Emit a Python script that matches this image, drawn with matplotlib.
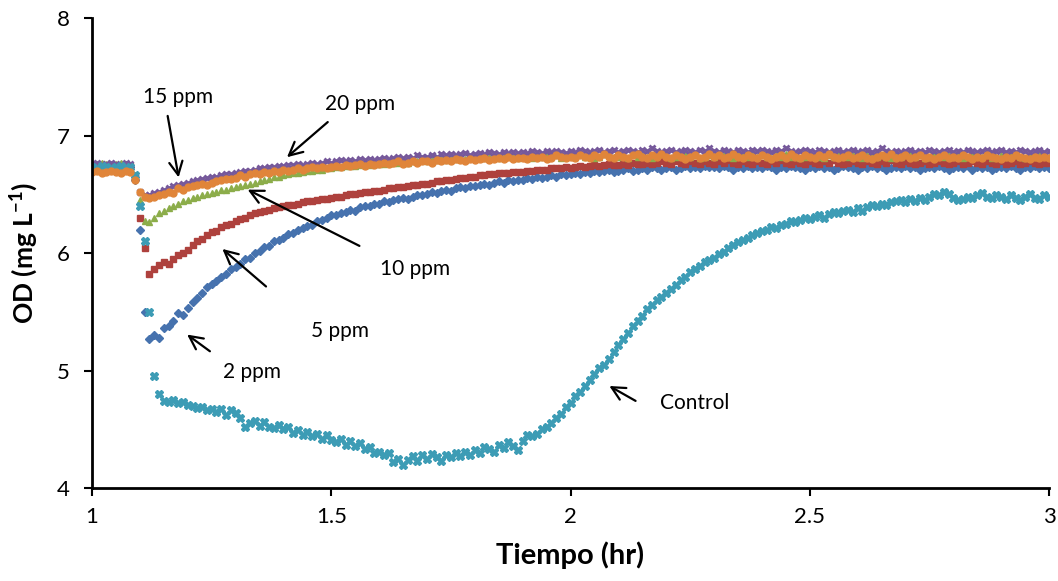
import matplotlib
matplotlib.use("Agg")
import matplotlib.pyplot as plt
import numpy as np

plt.rcParams['font.family'] = ['Lato', 'DejaVu Sans']
plt.rcParams['mathtext.fontset'] = 'custom'
plt.rcParams['mathtext.rm'] = 'Lato'
plt.rcParams['mathtext.bf'] = 'Lato:bold'

# time axis (hr), one reading every 0.01 hr
tiempo = np.round(np.arange(1.00, 3.001, 0.01), 2)

ppm2 = [
    6.74, 6.73, 6.75, 6.74, 6.73, 6.74, 6.75, 6.74, 6.73, 6.62,
    6.20, 5.50, 5.27, 5.30, 5.28, 5.36, 5.38, 5.42, 5.49, 5.47,
    5.53, 5.58, 5.62, 5.66, 5.71, 5.74, 5.76, 5.80, 5.82, 5.86,
    5.88, 5.91, 5.95, 5.96, 6.00, 6.02, 6.05, 6.06, 6.10, 6.11,
    6.13, 6.16, 6.17, 6.20, 6.21, 6.23, 6.24, 6.27, 6.28, 6.30,
    6.32, 6.32, 6.34, 6.35, 6.37, 6.36, 6.39, 6.40, 6.40, 6.42,
    6.42, 6.44, 6.43, 6.45, 6.46, 6.47, 6.46, 6.48, 6.49, 6.49,
    6.50, 6.52, 6.51, 6.53, 6.54, 6.53, 6.55, 6.56, 6.55, 6.57,
    6.57, 6.58, 6.59, 6.58, 6.60, 6.61, 6.60, 6.62, 6.61, 6.62,
    6.62, 6.64, 6.63, 6.65, 6.64, 6.65, 6.66, 6.65, 6.67, 6.66,
    6.67, 6.68, 6.67, 6.69, 6.68, 6.70, 6.69, 6.70, 6.71, 6.69,
    6.70, 6.71, 6.72, 6.70, 6.71, 6.72, 6.71, 6.73, 6.72, 6.71,
    6.72, 6.73, 6.71, 6.72, 6.74, 6.72, 6.73, 6.72, 6.74, 6.73,
    6.73, 6.72, 6.74, 6.73, 6.71, 6.73, 6.72, 6.74, 6.72, 6.73,
    6.72, 6.74, 6.73, 6.71, 6.73, 6.72, 6.74, 6.73, 6.72, 6.71,
    6.73, 6.72, 6.74, 6.72, 6.73, 6.71, 6.72, 6.74, 6.73, 6.72,
    6.71, 6.73, 6.72, 6.74, 6.72, 6.73, 6.71, 6.72, 6.73, 6.72,
    6.74, 6.72, 6.73, 6.71, 6.72, 6.73, 6.72, 6.74, 6.72, 6.71,
    6.72, 6.73, 6.72, 6.74, 6.71, 6.73, 6.72, 6.73, 6.71, 6.72,
    6.73, 6.72, 6.74, 6.72, 6.71, 6.73, 6.72, 6.74, 6.72, 6.73,
    6.72]

ppm5 = [
    6.74, 6.75, 6.73, 6.74, 6.75, 6.74, 6.73, 6.75, 6.74, 6.65,
    6.30, 6.04, 5.82, 5.86, 5.90, 5.92, 5.91, 5.95, 5.98, 6.00,
    6.03, 6.07, 6.10, 6.12, 6.15, 6.18, 6.19, 6.22, 6.24, 6.25,
    6.27, 6.29, 6.30, 6.32, 6.34, 6.35, 6.36, 6.37, 6.38, 6.39,
    6.40, 6.41, 6.41, 6.42, 6.43, 6.44, 6.44, 6.45, 6.46, 6.46,
    6.47, 6.48, 6.48, 6.49, 6.50, 6.50, 6.51, 6.52, 6.52, 6.53,
    6.53, 6.54, 6.55, 6.55, 6.56, 6.56, 6.57, 6.58, 6.58, 6.59,
    6.59, 6.60, 6.61, 6.61, 6.62, 6.62, 6.63, 6.64, 6.64, 6.65,
    6.65, 6.66, 6.66, 6.67, 6.67, 6.68, 6.68, 6.68, 6.69, 6.69,
    6.69, 6.70, 6.70, 6.71, 6.71, 6.71, 6.72, 6.72, 6.72, 6.73,
    6.72, 6.73, 6.74, 6.73, 6.74, 6.75, 6.74, 6.75, 6.76, 6.75,
    6.75, 6.76, 6.75, 6.77, 6.76, 6.76, 6.77, 6.76, 6.77, 6.78,
    6.77, 6.76, 6.78, 6.77, 6.76, 6.78, 6.77, 6.76, 6.78, 6.77,
    6.76, 6.78, 6.77, 6.79, 6.77, 6.76, 6.78, 6.77, 6.76, 6.78,
    6.77, 6.76, 6.78, 6.77, 6.79, 6.77, 6.76, 6.78, 6.77, 6.76,
    6.78, 6.77, 6.76, 6.78, 6.77, 6.79, 6.77, 6.76, 6.77, 6.78,
    6.77, 6.76, 6.78, 6.77, 6.76, 6.78, 6.77, 6.79, 6.77, 6.76,
    6.78, 6.77, 6.76, 6.77, 6.78, 6.76, 6.77, 6.78, 6.77, 6.76,
    6.77, 6.78, 6.76, 6.77, 6.78, 6.77, 6.76, 6.78, 6.77, 6.76,
    6.78, 6.76, 6.77, 6.78, 6.76, 6.77, 6.78, 6.77, 6.76, 6.77,
    6.77]

ppm10 = [
    6.76, 6.75, 6.77, 6.76, 6.75, 6.76, 6.77, 6.76, 6.75, 6.66,
    6.45, 6.27, 6.26, 6.30, 6.34, 6.36, 6.38, 6.40, 6.42, 6.44,
    6.45, 6.47, 6.48, 6.49, 6.50, 6.51, 6.52, 6.54, 6.54, 6.55,
    6.56, 6.57, 6.58, 6.59, 6.60, 6.61, 6.62, 6.63, 6.65, 6.65,
    6.66, 6.67, 6.68, 6.68, 6.69, 6.70, 6.70, 6.71, 6.71, 6.72,
    6.72, 6.73, 6.73, 6.74, 6.74, 6.74, 6.75, 6.75, 6.75, 6.76,
    6.76, 6.76, 6.77, 6.77, 6.77, 6.78, 6.77, 6.78, 6.78, 6.79,
    6.78, 6.79, 6.79, 6.80, 6.79, 6.80, 6.80, 6.81, 6.80, 6.81,
    6.81, 6.82, 6.81, 6.82, 6.83, 6.81, 6.82, 6.83, 6.82, 6.81,
    6.83, 6.82, 6.81, 6.83, 6.82, 6.84, 6.82, 6.83, 6.81, 6.82,
    6.83, 6.82, 6.84, 6.82, 6.83, 6.81, 6.82, 6.84, 6.83, 6.82,
    6.82, 6.83, 6.81, 6.84, 6.82, 6.83, 6.82, 6.81, 6.83, 6.84,
    6.83, 6.81, 6.82, 6.83, 6.84, 6.82, 6.83, 6.81, 6.82, 6.83,
    6.82, 6.84, 6.83, 6.82, 6.81, 6.83, 6.84, 6.82, 6.83, 6.82,
    6.83, 6.82, 6.81, 6.83, 6.82, 6.84, 6.82, 6.83, 6.81, 6.82,
    6.84, 6.83, 6.82, 6.81, 6.83, 6.82, 6.84, 6.83, 6.82, 6.83,
    6.82, 6.81, 6.83, 6.84, 6.82, 6.83, 6.82, 6.81, 6.83, 6.82,
    6.83, 6.84, 6.82, 6.83, 6.81, 6.82, 6.83, 6.84, 6.82, 6.83,
    6.82, 6.83, 6.81, 6.82, 6.84, 6.83, 6.82, 6.83, 6.81, 6.82,
    6.83, 6.82, 6.84, 6.83, 6.82, 6.81, 6.83, 6.82, 6.84, 6.83,
    6.82]

ppm15 = [
    6.69, 6.70, 6.68, 6.69, 6.70, 6.69, 6.68, 6.70, 6.69, 6.62,
    6.52, 6.48, 6.47, 6.48, 6.49, 6.50, 6.52, 6.51, 6.55, 6.54,
    6.56, 6.57, 6.58, 6.59, 6.58, 6.60, 6.61, 6.62, 6.63, 6.63,
    6.64, 6.66, 6.65, 6.67, 6.68, 6.67, 6.69, 6.68, 6.70, 6.69,
    6.71, 6.70, 6.71, 6.72, 6.71, 6.72, 6.73, 6.72, 6.73, 6.72,
    6.73, 6.74, 6.73, 6.75, 6.74, 6.75, 6.76, 6.74, 6.76, 6.75,
    6.76, 6.77, 6.76, 6.77, 6.78, 6.76, 6.77, 6.78, 6.77, 6.78,
    6.78, 6.77, 6.79, 6.78, 6.79, 6.78, 6.80, 6.79, 6.78, 6.80,
    6.79, 6.80, 6.81, 6.79, 6.80, 6.81, 6.80, 6.82, 6.80, 6.81,
    6.81, 6.80, 6.82, 6.81, 6.82, 6.80, 6.81, 6.83, 6.82, 6.81,
    6.82, 6.81, 6.83, 6.82, 6.81, 6.83, 6.82, 6.84, 6.82, 6.81,
    6.83, 6.82, 6.81, 6.83, 6.84, 6.82, 6.81, 6.83, 6.82, 6.84,
    6.82, 6.81, 6.83, 6.82, 6.80, 6.82, 6.83, 6.81, 6.82, 6.84,
    6.82, 6.83, 6.81, 6.82, 6.84, 6.82, 6.81, 6.83, 6.82, 6.81,
    6.83, 6.82, 6.80, 6.82, 6.83, 6.81, 6.84, 6.82, 6.81, 6.83,
    6.82, 6.81, 6.83, 6.82, 6.84, 6.82, 6.81, 6.82, 6.83, 6.81,
    6.82, 6.83, 6.81, 6.80, 6.82, 6.83, 6.82, 6.84, 6.81, 6.82,
    6.83, 6.81, 6.82, 6.83, 6.81, 6.82, 6.80, 6.82, 6.83, 6.81,
    6.82, 6.81, 6.83, 6.82, 6.80, 6.82, 6.81, 6.83, 6.82, 6.81,
    6.80, 6.82, 6.81, 6.83, 6.82, 6.81, 6.80, 6.82, 6.81, 6.82,
    6.81]

ppm20 = [
    6.76, 6.77, 6.75, 6.76, 6.77, 6.76, 6.75, 6.77, 6.76, 6.65,
    6.52, 6.49, 6.49, 6.51, 6.52, 6.54, 6.55, 6.57, 6.58, 6.59,
    6.60, 6.61, 6.62, 6.63, 6.64, 6.65, 6.65, 6.66, 6.67, 6.67,
    6.68, 6.69, 6.70, 6.70, 6.71, 6.72, 6.72, 6.73, 6.73, 6.74,
    6.74, 6.75, 6.75, 6.76, 6.75, 6.76, 6.77, 6.76, 6.77, 6.78,
    6.77, 6.78, 6.79, 6.78, 6.79, 6.78, 6.80, 6.79, 6.80, 6.79,
    6.80, 6.81, 6.80, 6.81, 6.82, 6.81, 6.82, 6.81, 6.83, 6.82,
    6.82, 6.83, 6.82, 6.84, 6.83, 6.84, 6.83, 6.84, 6.85, 6.83,
    6.84, 6.85, 6.84, 6.86, 6.85, 6.84, 6.86, 6.85, 6.86, 6.85,
    6.86, 6.85, 6.87, 6.86, 6.85, 6.87, 6.86, 6.87, 6.86, 6.85,
    6.87, 6.86, 6.88, 6.87, 6.86, 6.87, 6.88, 6.86, 6.87, 6.88,
    6.86, 6.87, 6.88, 6.87, 6.86, 6.88, 6.87, 6.89, 6.87, 6.86,
    6.87, 6.88, 6.86, 6.87, 6.88, 6.87, 6.86, 6.88, 6.87, 6.89,
    6.87, 6.86, 6.88, 6.87, 6.86, 6.88, 6.87, 6.86, 6.88, 6.87,
    6.88, 6.87, 6.86, 6.88, 6.87, 6.89, 6.87, 6.86, 6.87, 6.88,
    6.87, 6.86, 6.88, 6.87, 6.86, 6.87, 6.88, 6.86, 6.87, 6.88,
    6.86, 6.87, 6.88, 6.86, 6.87, 6.89, 6.87, 6.86, 6.87, 6.86,
    6.87, 6.88, 6.86, 6.87, 6.86, 6.88, 6.87, 6.86, 6.87, 6.88,
    6.86, 6.87, 6.86, 6.88, 6.87, 6.86, 6.87, 6.88, 6.86, 6.87,
    6.88, 6.86, 6.87, 6.86, 6.88, 6.87, 6.86, 6.87, 6.88, 6.86,
    6.87]

control = [
    6.73, 6.72, 6.74, 6.73, 6.72, 6.73, 6.74, 6.72, 6.73, 6.66,
    6.40, 6.10, 5.50, 4.95, 4.80, 4.74, 4.73, 4.75, 4.72, 4.73,
    4.71, 4.70, 4.68, 4.69, 4.66, 4.67, 4.65, 4.67, 4.62, 4.66,
    4.64, 4.60, 4.52, 4.55, 4.57, 4.53, 4.56, 4.52, 4.51, 4.54,
    4.50, 4.52, 4.47, 4.49, 4.45, 4.48, 4.44, 4.46, 4.42, 4.45,
    4.41, 4.39, 4.42, 4.37, 4.40, 4.36, 4.38, 4.33, 4.35, 4.30,
    4.31, 4.28, 4.30, 4.22, 4.25, 4.20, 4.24, 4.27, 4.23, 4.28,
    4.25, 4.29, 4.26, 4.23, 4.28, 4.26, 4.30, 4.27, 4.31, 4.28,
    4.32, 4.30, 4.35, 4.33, 4.31, 4.37, 4.34, 4.39, 4.36, 4.32,
    4.40, 4.45, 4.44, 4.46, 4.50, 4.52, 4.55, 4.60, 4.63, 4.69,
    4.72, 4.78, 4.82, 4.87, 4.92, 4.97, 5.02, 5.05, 5.10, 5.16,
    5.22, 5.27, 5.32, 5.38, 5.42, 5.46, 5.52, 5.56, 5.60, 5.63,
    5.66, 5.69, 5.73, 5.77, 5.80, 5.84, 5.86, 5.89, 5.92, 5.94,
    5.96, 5.99, 6.01, 6.04, 6.07, 6.09, 6.11, 6.13, 6.15, 6.17,
    6.19, 6.20, 6.22, 6.21, 6.24, 6.25, 6.27, 6.26, 6.28, 6.30,
    6.29, 6.31, 6.32, 6.30, 6.33, 6.35, 6.34, 6.36, 6.37, 6.35,
    6.38, 6.36, 6.39, 6.41, 6.40, 6.42, 6.41, 6.43, 6.44, 6.45,
    6.43, 6.46, 6.44, 6.47, 6.45, 6.48, 6.50, 6.49, 6.52, 6.50,
    6.47, 6.45, 6.46, 6.48, 6.47, 6.49, 6.51, 6.48, 6.47, 6.49,
    6.48, 6.46, 6.49, 6.47, 6.45, 6.48, 6.50, 6.47, 6.46, 6.49,
    6.48]

fig = plt.figure(figsize=(10.58, 5.81), dpi=100)
ax = fig.add_axes([0.087, 0.16, 0.9045, 0.809])

ms = 5
ax.plot(tiempo, ppm2, ls='none', marker='D', ms=ms - 0.5, color='#4672AE', label='2 ppm')
ax.plot(tiempo, ppm5, ls='none', marker='s', ms=ms, color='#AE413D', label='5 ppm')
ax.plot(tiempo, ppm10, ls='none', marker='^', ms=ms, color='#8CAD4A', label='10 ppm')
ax.plot(tiempo, ppm20, ls='none', marker='x', ms=ms, mew=2, color='#76599B', label='20 ppm')
ax.plot(tiempo, control, ls='none', marker='X', ms=ms + 0.5, color='#3D9CB5', label='Control')
ax.plot(tiempo, ppm15, ls='none', marker='o', ms=ms, color='#E0853A', label='15 ppm')

ax.set_xlim(1, 3)
ax.set_ylim(4, 8)
ax.set_xticks([1, 1.5, 2, 2.5, 3])
ax.set_xticklabels(['1', '1.5', '2', '2.5', '3'])
ax.set_yticks([4, 5, 6, 7, 8])

for s in ['top', 'right']:
    ax.spines[s].set_visible(False)
for s in ['left', 'bottom']:
    ax.spines[s].set_linewidth(2)
ax.tick_params(axis='both', direction='out', length=6, width=1.5, labelsize=16, colors='black')
ax.tick_params(axis='x', pad=8)
ax.tick_params(axis='y', pad=10)

ax.set_xlabel('Tiempo (hr)', fontsize=21, fontweight='bold', labelpad=10)
ax.set_ylabel('OD (mg L$^{\\mathbf{-1}}$)', fontsize=19, fontweight='bold', labelpad=12)

arrow = dict(arrowstyle='->', color='black', lw=1.6, mutation_scale=24)
notes = [
    ('15 ppm', (1.182, 6.62), (1.180, 7.33), (1.157, 7.19)),
    ('20 ppm', (1.403, 6.80), (1.560, 7.27), (1.497, 7.13)),
    ('10 ppm', (1.320, 6.55), (1.675, 5.86), (1.564, 6.05)),
    ('5 ppm', (1.268, 6.05), (1.518, 5.34), (1.368, 5.70)),
    ('2 ppm', (1.194, 5.32), (1.334, 4.99), (1.251, 5.15)),
    ('Control', (2.076, 4.88), (2.260, 4.72), (2.141, 4.73)),
]
for txt, head, pos, tail in notes:
    ax.annotate('', xy=head, xytext=tail, arrowprops=arrow)
    ax.text(pos[0], pos[1], txt, fontsize=15, ha='center', va='center')

fig.savefig('out.png', dpi=100)
